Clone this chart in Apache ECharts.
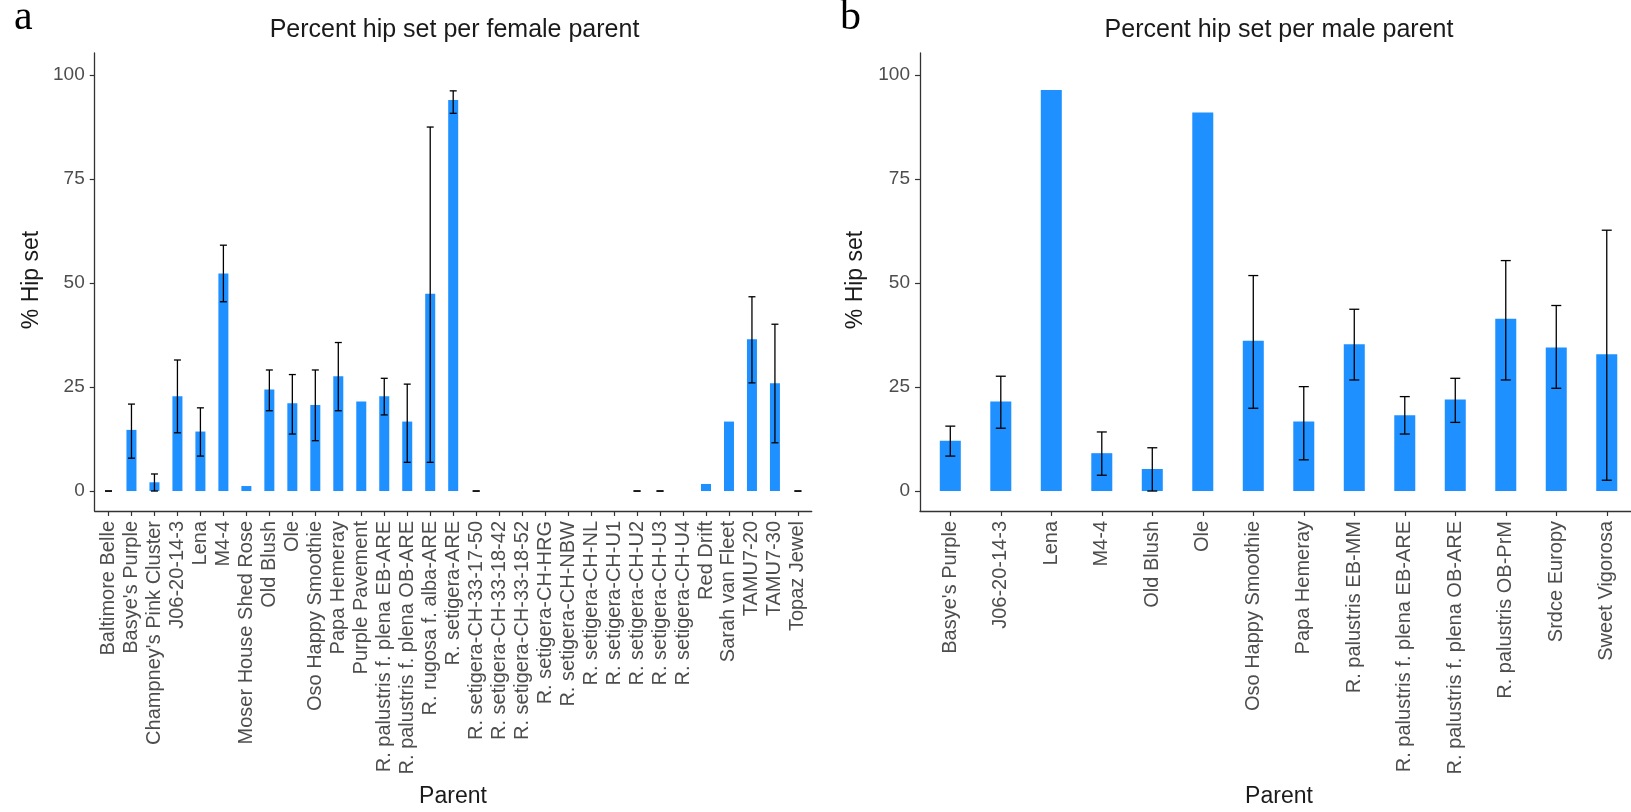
<!DOCTYPE html>
<html>
<head>
<meta charset="utf-8">
<script src="https://cdn.jsdelivr.net/npm/echarts@6/dist/echarts.min.js"></script>
<style>
html,body{margin:0;padding:0;background:#fff;}
#chart{width:1631px;height:812px;}
</style>
</head>
<body>
<div id="chart"></div>
<script>
// ---- Panel a: female parents ----
const femaleCats = ["Baltimore Belle","Basye's Purple","Champney's Pink Cluster","J06-20-14-3","Lena","M4-4","Moser House Shed Rose","Old Blush","Ole","Oso Happy Smoothie","Papa Hemeray","Purple Pavement","R. palustris f. plena EB-ARE","R. palustris f. plena OB-ARE","R. rugosa f. alba-ARE","R. setigera-ARE","R. setigera-CH-33-17-50","R. setigera-CH-33-18-42","R. setigera-CH-33-18-52","R. setigera-CH-HRG","R. setigera-CH-NBW","R. setigera-CH-NL","R. setigera-CH-U1","R. setigera-CH-U2","R. setigera-CH-U3","R. setigera-CH-U4","Red Drift","Sarah van Fleet","TAMU7-20","TAMU7-30","Topaz Jewel"];
const femaleVals = [0,14.7,2.1,22.8,14.3,52.3,1.2,24.4,21.1,20.7,27.6,21.5,22.8,16.7,47.4,94.0,0,0,0,0,0,0,0,0,0,0,1.7,16.7,36.5,25.9,0];
const femaleLo = [0,7.9,0,14.0,8.4,45.5,null,19.3,13.7,12.1,19.3,null,18.3,6.9,6.9,90.8,0,null,null,null,null,null,null,0,0,null,null,null,26.0,11.6,0];
const femaleHi = [0,20.9,4.1,31.5,20.0,59.1,null,29.1,28.0,29.1,35.7,null,27.1,25.7,87.5,96.2,0,null,null,null,null,null,null,0,0,null,null,null,46.7,40.1,0];

// ---- Panel b: male parents ----
const maleCats = ["Basye's Purple","J06-20-14-3","Lena","M4-4","Old Blush","Ole","Oso Happy Smoothie","Papa Hemeray","R. palustris EB-MM","R. palustris f. plena EB-ARE","R. palustris f. plena OB-ARE","R. palustris OB-PrM","Srdce Europy","Sweet Vigorosa"];
const maleVals = [12.1,21.5,96.4,9.1,5.3,91.0,36.1,16.7,35.3,18.2,22.0,41.4,34.5,32.9];
const maleLo = [8.4,15.1,null,3.8,0,null,19.9,7.5,26.7,13.7,16.5,26.7,24.7,2.6];
const maleHi = [15.6,27.6,null,14.2,10.4,null,51.8,25.1,43.7,22.7,27.1,55.4,44.6,62.7];

const yTicks = [0,25,50,75,100];

const FONT = "'Liberation Sans', Arial, sans-serif";
const BAR = '#1E90FF';
const AXIS = '#333333';
const TICKTXT = '#4D4D4D';

function idx(n){ const a=[]; for(let i=0;i<n;i++) a.push(i); return a; }

function xAxisCfg(gridIndex, cats, max){
  return {
    type:'value', gridIndex, min:-0.6, max:max,
    axisLine:{show:true, onZero:false, lineStyle:{color:AXIS,width:1.3}},
    axisTick:{show:true, length:5, customValues:idx(cats.length), lineStyle:{color:AXIS,width:1.2}},
    splitLine:{show:false},
    axisLabel:{
      customValues:idx(cats.length), rotate:90, margin:10,
      fontFamily:FONT, fontSize:20, color:TICKTXT,
      formatter:(v)=>cats[Math.round(v)] || ''
    }
  };
}
function yAxisCfg(gridIndex){
  return {
    type:'value', gridIndex, min:-4.8, max:105.3,
    axisLine:{show:true, onZero:false, lineStyle:{color:AXIS,width:1.3}},
    axisTick:{show:true, length:5, customValues:yTicks, lineStyle:{color:AXIS,width:1.2}},
    splitLine:{show:false},
    axisLabel:{customValues:yTicks, margin:10, fontFamily:FONT, fontSize:19, color:TICKTXT}
  };
}
function barData(vals){ return vals.map((v,i)=>[i,v]); }
function errItems(lo,hi){
  const d=[]; for(let i=0;i<lo.length;i++){ if(lo[i]!==null && hi[i]!==null) d.push([i,lo[i],hi[i]]); } return d;
}
function errSeries(xi, yi, lo, hi, half){
  const items = errItems(lo,hi);
  return {
    type:'custom', xAxisIndex:xi, yAxisIndex:yi, z:5, clip:false,
    data: items.map(function(it){ return [it[0], it[1], it[2]]; }),
    encode:{x:0,y:[1,2]},
    renderItem:function(params, api){
      const it = items[params.dataIndex];
      const p1 = api.coord([it[0], it[1]]);
      const p2 = api.coord([it[0], it[2]]);
      const st = {stroke:'#000', lineWidth:1.3};
      return {type:'group', children:[
        {type:'line', shape:{x1:p1[0],y1:p1[1]+0.01,x2:p2[0],y2:p2[1]}, style:st},
        {type:'line', shape:{x1:p1[0]-half,y1:p1[1],x2:p1[0]+half,y2:p1[1]}, style:st},
        {type:'line', shape:{x1:p2[0]-half,y1:p2[1],x2:p2[0]+half,y2:p2[1]}, style:st}
      ]};
    }
  };
}

const chart = echarts.init(document.getElementById('chart'), null, {renderer:'canvas'});
chart.setOption({
  animation:false,
  backgroundColor:'#ffffff',
  grid:[
    {left:94.7, top:53, width:717, height:458},
    {left:920, top:53, right:0, height:458}
  ],
  xAxis:[ xAxisCfg(0, femaleCats, 30.6), xAxisCfg(1, maleCats, 13.48) ],
  yAxis:[ yAxisCfg(0), yAxisCfg(1) ],
  series:[
    {type:'bar', xAxisIndex:0, yAxisIndex:0, barWidth:10, data:barData(femaleVals), itemStyle:{color:BAR}},
    errSeries(0,0,femaleLo,femaleHi,3.5),
    {type:'bar', xAxisIndex:1, yAxisIndex:1, barWidth:21, data:barData(maleVals), itemStyle:{color:BAR}},
    errSeries(1,1,maleLo,maleHi,5)
  ],
  graphic:[
    {type:'text', x:14, y:18, style:{text:'a', font:"42px 'Liberation Serif', 'Times New Roman', serif", fill:'#000', textAlign:'left', textVerticalAlign:'middle'}},
    {type:'text', x:840, y:18, style:{text:'b', font:"42px 'Liberation Serif', 'Times New Roman', serif", fill:'#000', textAlign:'left', textVerticalAlign:'middle'}},
    {type:'text', x:454.5, y:30, style:{text:'Percent hip set per female parent', font:"25px "+FONT, fill:'#1a1a1a', textAlign:'center', textVerticalAlign:'middle'}},
    {type:'text', x:1279, y:30, style:{text:'Percent hip set per male parent', font:"25px "+FONT, fill:'#1a1a1a', textAlign:'center', textVerticalAlign:'middle'}},
    {type:'text', x:32, y:280, rotation:Math.PI/2, style:{text:'% Hip set', font:"23px "+FONT, fill:'#1a1a1a', textAlign:'center', textVerticalAlign:'middle'}},
    {type:'text', x:856, y:280, rotation:Math.PI/2, style:{text:'% Hip set', font:"23px "+FONT, fill:'#1a1a1a', textAlign:'center', textVerticalAlign:'middle'}},
    {type:'text', x:453, y:797, style:{text:'Parent', font:"23px "+FONT, fill:'#1a1a1a', textAlign:'center', textVerticalAlign:'middle'}},
    {type:'text', x:1279, y:797, style:{text:'Parent', font:"23px "+FONT, fill:'#1a1a1a', textAlign:'center', textVerticalAlign:'middle'}}
  ]
});
</script>
</body>
</html>
